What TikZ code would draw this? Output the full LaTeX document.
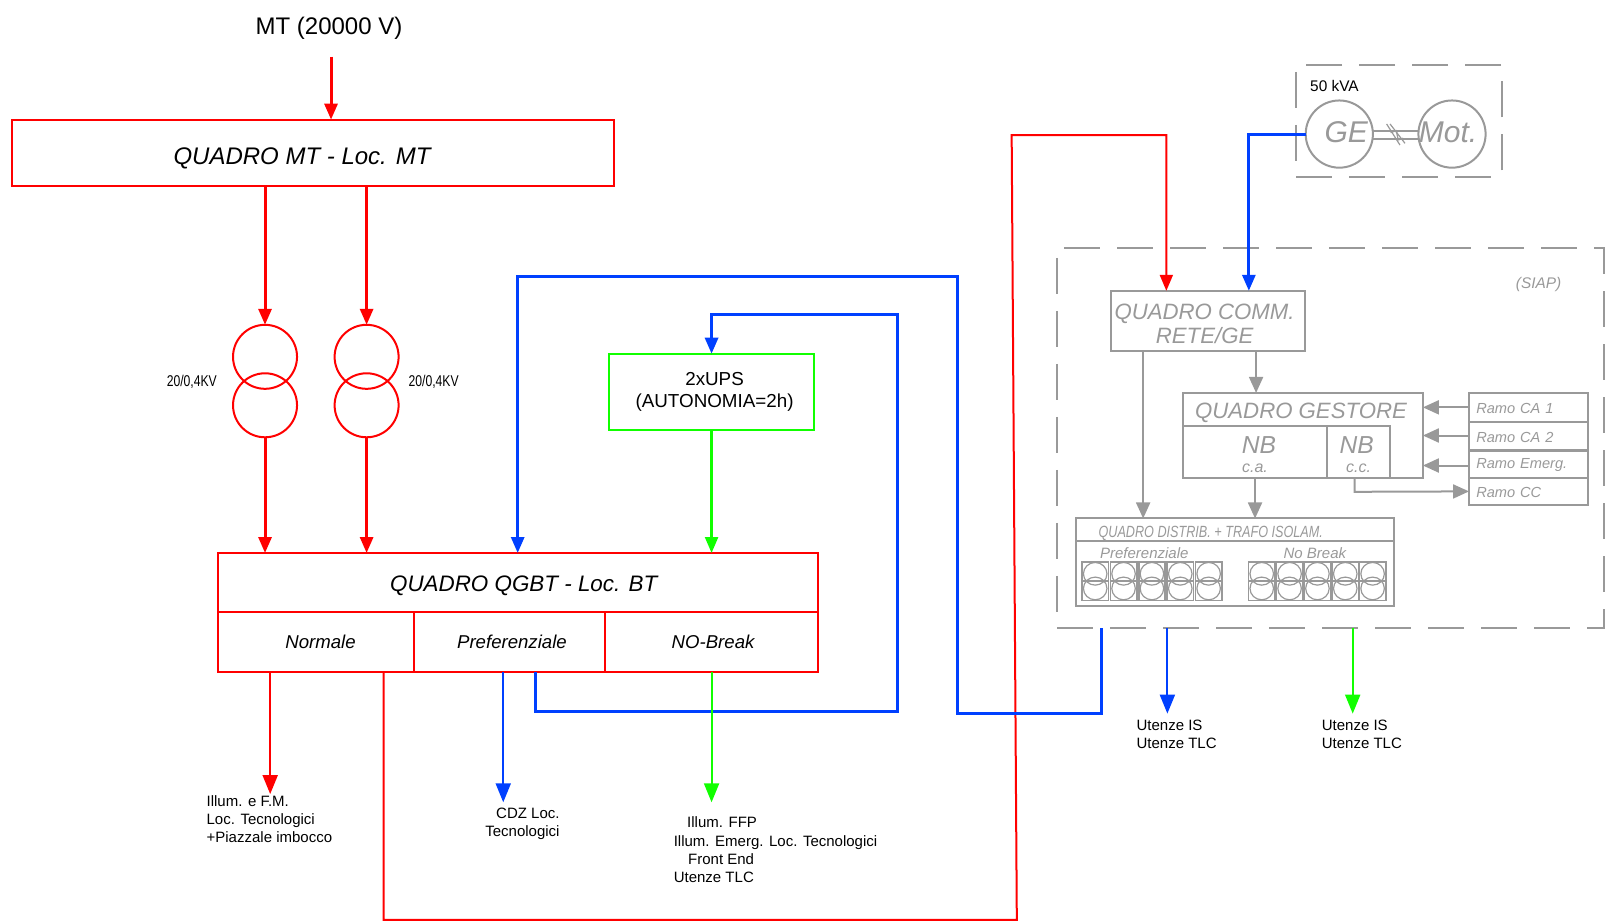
\documentclass[tikz,border=0pt]{standalone}
\usepackage{fontspec}
\setmainfont{Liberation Sans}
\newfontfamily\narrowfont[FakeStretch=0.78]{Liberation Sans}
\usetikzlibrary{arrows.meta}
\definecolor{redline}{HTML}{FF0000}
\definecolor{blueline}{HTML}{0040FF}
\definecolor{greenline}{HTML}{11FF00}
\definecolor{greyline}{HTML}{999999}
\newcommand{\fsize}[1]{\fontsize{#1}{0}\selectfont\baselineskip=1.2\dimexpr#1pt\relax}
\newcommand{\nudge}[2]{\raisebox{#1}[\height][\depth]{#2}}
\tikzset{
  boxsize/.style 2 args={minimum width=#1*0.5156pt,minimum height=#2*0.5156pt},
  panel/.style={draw,line width=1pt,inner sep=0pt,outer sep=0pt,align=center},
  redpanel/.style={panel,draw=redline},
  greypanel/.style={panel,draw=greyline,text=greyline,font=\itshape},
  feed/.style={line width=1.5pt,-{Triangle[length=8pt,width=6.5pt]}},
  branch/.style={line width=1pt,-{Triangle[length=9.5pt,width=7.5pt]}},
  greyarrow/.style={draw=greyline,line width=1pt,-{Triangle[length=8pt,width=7pt,fill=greyline]}},
  dashbox/.style={draw=greyline,line width=1pt,dash pattern=on 18pt off 8.5pt,inner sep=0pt,outer sep=0pt},
  caption/.style={inner sep=0pt,align=left,font=\fsize{7.5}},
  coil/.style={circle,draw=redline,line width=1pt,minimum size=32pt,inner sep=0pt,outer sep=0pt},
  wheel/.style={circle,draw=greyline,line width=1pt,minimum size=33.6pt,inner sep=0pt,outer sep=0pt,text=greyline,font=\fsize{15}\itshape},
  cell/.style={draw=greyline,line width=.8pt,inner sep=0pt,outer sep=0pt,boxsize={25.6}{37.4}},
}
\begin{document}
\begin{tikzpicture}[x=0.5156pt,y=-0.5156pt]
  \useasboundingbox (0,0) rectangle (1568,894);

  % left side
  \node[inner sep=0pt,font=\fsize{12}] (mtlabel) at (319,27) {MT (20000 V)};
  \coordinate (mtin) at (321,55);
  \node[redpanel,boxsize={583}{64},font=\fsize{12}\itshape] (mt) at (303.5,148) {\hspace*{-11pt}\nudge{-3pt}{QUADRO MT - Loc. MT}};

  \node[coil] (t1a) at (257,346) {};
  \node[coil] (t1b) at (257,393) {};
  \node[coil] (t2a) at (355.5,346) {};
  \node[coil] (t2b) at (355.5,393) {};
  \node[inner sep=0pt,font=\narrowfont\fsize{7.8}] (t1label) at (186,370) {20/0,4KV};
  \node[inner sep=0pt,font=\narrowfont\fsize{7.8}] (t2label) at (420.5,370) {20/0,4KV};

  \node[redpanel,boxsize={582}{57.5},font=\fsize{11.2}\itshape] (qgbt) at (502,565) {\hspace*{6pt}\nudge{-1.4pt}{QUADRO QGBT - Loc. BT}};
  \node[redpanel,boxsize={190}{57.5},font=\fsize{9.3}\itshape] (normale) at (306,622.5) {\hspace*{5pt}Normale};
  \node[redpanel,boxsize={186}{57.5},font=\fsize{9.3}\itshape] (prefer) at (494,622.5) {\hspace*{2.5pt}Preferenziale};
  \node[redpanel,boxsize={206}{57.5},font=\fsize{9.3}\itshape] (nobreak) at (690,622.5) {\hspace*{1.5pt}NO-Break};

  \node[panel,draw=greenline,boxsize={198}{74},font=\fsize{9.4}] (ups) at (690,380) {\hspace*{3pt}2xUPS\\[.1pt]\hspace*{3pt}(AUTONOMIA=2h)};

  \node[caption,anchor=north west] (illum) at (200,771.5) {Illum. e F.M.\\Loc. Tecnologici\\+Piazzale imbocco};
  \node[caption,anchor=north east,align=right] (cdz) at (543,783.5) {CDZ Loc.\\Tecnologici};
  \node[caption,anchor=north west] (ffp) at (653,791.5) {\hspace*{6.7pt}Illum. FFP\\[.5pt]Illum. Emerg. Loc. Tecnologici\\\hspace*{7.2pt}Front End\\Utenze TLC};

  % generator
  \node[dashbox,boxsize={199}{109}] (gebox) at (1356.6,117.2) {};
  \node[inner sep=0pt,font=\fsize{7.7}] (kva) at (1294,83) {50 kVA};
  \node[wheel] (ge) at (1298.7,130) {\hspace*{7pt}\nudge{1pt}{GE}};
  \node[wheel] (mot) at (1408,130) {\hspace*{-4pt}\nudge{1pt}{Mot.}};
  \draw[greyline,line width=1pt] (ge.east |- 0,126.7) -- (mot.west |- 0,126.7);
  \draw[greyline,line width=1pt] (ge.east |- 0,135) -- (mot.west |- 0,135);
  \draw[greyline,line width=.6pt] (1344.6,120.2) -- (1357.5,140.6);
  \draw[greyline,line width=.6pt] (1347.9,120.2) -- (1362.4,139);
  \draw[greyline,line width=.6pt] (1348.4,128.6) -- (1354,126.7) -- (1355.8,135.7) -- (1360.7,134);

  % siap area
  \node[dashbox,boxsize={530}{369}] (siap) at (1290,424.5) {};
  \node[inner sep=0pt,text=greyline,font=\fsize{7.7}\itshape] (siaplabel) at (1492,276) {(SIAP)};
  \node[greypanel,boxsize={188}{58},font=\fsize{11.1}\itshape] (comm) at (1171,311) {\hspace*{-3pt}\nudge{-1.5pt}{QUADRO COMM.}\\[-1.2pt]\hspace*{-3pt}\nudge{-1.5pt}{RETE/GE}};
  \node[greypanel,boxsize={232.5}{82.4},font=\fsize{11.1}\itshape] (gest) at (1263.5,422.2) {\hspace*{-2pt}\nudge{11.4pt}{QUADRO GESTORE}};
  \node[greypanel,boxsize={140}{50},font=\fsize{12.3}\itshape] (nbca) at (1217,438.4) {\hspace*{4pt}\nudge{-2.5pt}{NB}\\[-3pt]{\fsize{8}c.a.}};
  \node[greypanel,boxsize={61}{50},font=\fsize{12.3}\itshape] (nbcc) at (1317.5,438.4) {\hspace*{-2pt}\nudge{-2.5pt}{NB}\\[-3pt]{\fsize{8}c.c.}};
  \foreach \name/\label/\yc/\hh in {ca1/Ramo CA 1/395/28,ca2/Ramo CA 2/423/28,emerg/Ramo Emerg./450/26.4,cc/Ramo CC/476.5/26.6}{
    \node[greypanel,boxsize={115}{\hh},font=\fsize{7.3}\itshape,text width=52pt,align=left] (\name) at (1482,\yc) {\nudge{-.7pt}{\label}};
  }
  \node[greypanel,boxsize={308.5}{22.3},font=\narrowfont\fsize{8.1}\itshape] (dist) at (1197.3,513.9) {\hspace*{-24pt}\nudge{-1.8pt}{QUADRO DISTRIB. + TRAFO ISOLAM.}};
  \node[greypanel,boxsize={308.5}{62.6}] (distb) at (1197.3,556.3) {};
  \node[inner sep=0pt,text=greyline,font=\fsize{7.5}\itshape] (preflabel) at (1109.6,536.5) {Preferenziale};
  \node[inner sep=0pt,text=greyline,font=\fsize{7.5}\itshape] (nbklabel) at (1275,536.5) {No Break};
  \foreach \i/\xc in {1/1062,2/1089.5,3/1117,4/1144.5,5/1172,6/1223.5,7/1250.5,8/1277.5,9/1304.5,10/1331}{
    \node[cell] (cell\i) at (\xc,563.4) {};
    \draw[greyline,line width=.6pt] (\xc,556.4) circle (11.4 and 11);
    \draw[greyline,line width=.6pt] (\xc,570.6) circle (11.4 and 11);
    \draw[greyline,line width=.6pt] (cell\i.west) -- (cell\i.east);
  }
  \node[caption,anchor=north west] (utis) at (1101.8,697.5) {Utenze IS\\Utenze TLC};
  \node[caption,anchor=north west] (utnb) at (1281.4,697.5) {Utenze IS\\Utenze TLC};

  % waypoints
  \coordinate (b1) at (519,690);
  \coordinate (b2) at (870,690);
  \coordinate (b3) at (870,305);
  \coordinate (b4) at (690,305);
  \coordinate (c1) at (1068,692);
  \coordinate (c2) at (928,692);
  \coordinate (c3) at (928,268);
  \coordinate (c4) at (502,268);
  \coordinate (r1) at (372,892);
  \coordinate (r2) at (986,892);
  \coordinate (r3) at (981,131);
  \coordinate (r4) at (1131,131);
  \coordinate (d1) at (1211,130);
  \coordinate (e1) at (262,770);
  \coordinate (e2) at (488,778);
  \coordinate (e3) at (690,778);
  \coordinate (e4) at (1132,692);
  \coordinate (e5) at (1311.7,692);
  \coordinate (g1) at (1108.5,420);
  \coordinate (g2) at (1218,360);
  \coordinate (h2) at (1400,422.3);
  \coordinate (h3) at (1400,451.4);
  \coordinate (h4) at (1313.5,476.9);

  % red connectors
  \draw[feed,redline] (mtin) -- (mtin |- mt.north);
  \draw[feed,redline] (t1a |- mt.south) -- (t1a.north);
  \draw[feed,redline] (t2a |- mt.south) -- (t2a.north);
  \draw[feed,redline] (t1b.south) -- (t1b |- qgbt.north);
  \draw[feed,redline] (t2b.south) -- (t2b |- qgbt.north);
  \draw[branch,redline] (e1 |- normale.south) -- (e1);
  \draw[line width=1pt,redline,-{Triangle[length=8pt,width=6.5pt]}] (r1 |- normale.south) -- (r1) -- (r2) -- (r3) -- (r4) -- (r4 |- comm.north);

  % blue connectors
  \draw[branch,blueline] (e2 |- prefer.south) -- (e2);
  \draw[feed,blueline] (b1 |- prefer.south) -- (b1) -- (b2) -- (b3) -- (b4) -- (b4 |- ups.north);
  \draw[feed,blueline] (c1 |- siap.south) -- (c1) -- (c2) -- (c3) -- (c4) -- (c4 |- qgbt.north);
  \draw[feed,blueline] (ge.west) -- (d1) -- (d1 |- comm.north);
  \draw[branch,blueline] (e4 |- siap.south) -- (e4);

  % green connectors
  \draw[feed,greenline,line width=1.2pt] (ups.south) -- (ups.south |- qgbt.north);
  \draw[branch,greenline] (e3 |- nobreak.south) -- (e3);
  \draw[branch,greenline] (e5 |- siap.south) -- (e5);

  % grey connectors
  \draw[greyarrow] (g1 |- comm.south) -- (g1 |- dist.north);
  \draw[greyarrow] (g2 |- comm.south) -- (g2 |- gest.north);
  \draw[greyarrow] (nbca.south) -- (nbca.south |- dist.north);
  \draw[greyarrow] (ca1.west) -- (ca1.west -| gest.east);
  \draw[greyarrow] (ca2.west |- h2) -- (gest.east |- h2);
  \draw[greyarrow] (emerg.west |- h3) -- (gest.east |- h3);
  \draw[greyarrow] (h4 |- gest.south) -- (h4) -- (cc.west);
\end{tikzpicture}
\end{document}
